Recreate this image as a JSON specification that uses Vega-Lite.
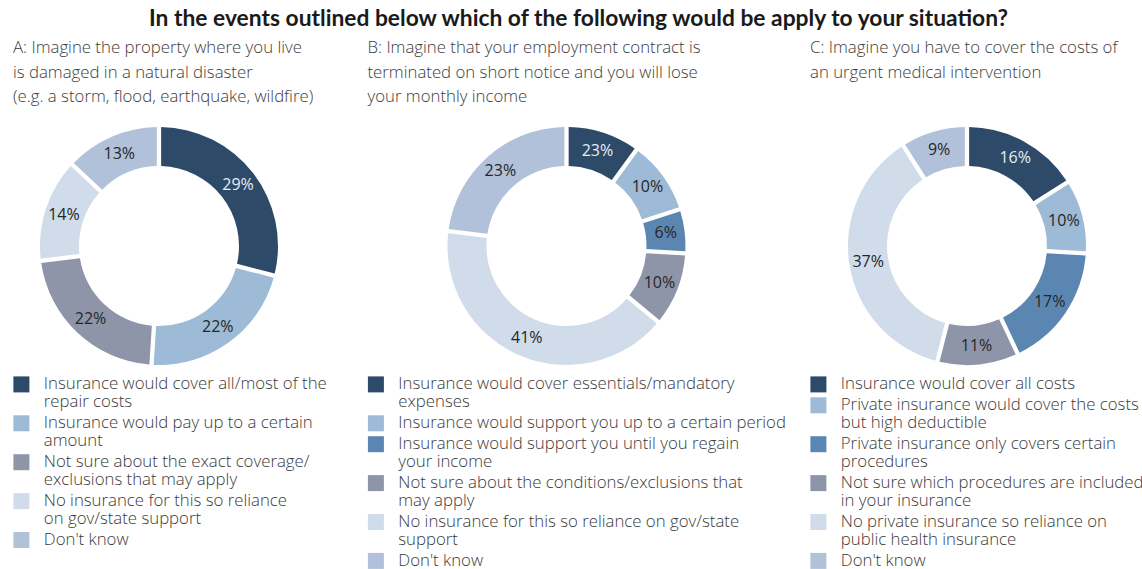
{
  "$schema": "https://vega.github.io/schema/vega-lite/v6.json",
  "padding": {"left": 13, "top": 8, "right": 0, "bottom": 0},
  "background": "white",
  "title": {"text": "In the events outlined below which of the following would be apply to your situation?", "font": "Lato", "fontSize": 22.8, "fontWeight": "bold", "color": "#1a1a1a", "anchor": "middle", "offset": 9},
  "datasets": {
    "A": [
      {"order": 1, "answer": "Insurance would cover all/most of the|repair costs", "value": 29, "label": "29%"},
      {"order": 2, "answer": "Insurance would pay up to a certain|amount", "value": 22, "label": "22%"},
      {"order": 3, "answer": "Not sure about the exact coverage/|exclusions that may apply", "value": 22, "label": "22%"},
      {"order": 4, "answer": "No insurance for this so reliance|on gov/state support", "value": 14, "label": "14%"},
      {"order": 5, "answer": "Don't know", "value": 13, "label": "13%"}
    ],
    "B": [
      {"order": 1, "answer": "Insurance would cover essentials/mandatory|expenses", "value": 10, "label": "23%"},
      {"order": 2, "answer": "Insurance would support you up to a certain period", "value": 10, "label": "10%"},
      {"order": 3, "answer": "Insurance would support you until you regain|your income", "value": 6, "label": "6%"},
      {"order": 4, "answer": "Not sure about the conditions/exclusions that|may apply", "value": 10, "label": "10%"},
      {"order": 5, "answer": "No insurance for this so reliance on gov/state|support", "value": 41, "label": "41%"},
      {"order": 6, "answer": "Don't know", "value": 23, "label": "23%"}
    ],
    "C": [
      {"order": 1, "answer": "Insurance would cover all costs", "value": 16, "label": "16%"},
      {"order": 2, "answer": "Private insurance would cover the costs|but high deductible", "value": 10, "label": "10%"},
      {"order": 3, "answer": "Private insurance only covers certain|procedures", "value": 17, "label": "17%"},
      {"order": 4, "answer": "Not sure which procedures are included|in your insurance", "value": 11, "label": "11%"},
      {"order": 5, "answer": "No private insurance so reliance on|public health insurance", "value": 37, "label": "37%"},
      {"order": 6, "answer": "Don't know", "value": 9, "label": "9%"}
    ]
  },
  "spacing": 40.5,
  "resolve": {"scale": {"color": "independent", "theta": "independent"}, "legend": {"color": "independent"}},
  "hconcat": [
    {
      "width": 292, "height": 250,
      "data": {"name": "A"},
      "title": {"text": ["A: Imagine the property where you live", "is damaged in a natural disaster", "(e.g. a storm, flood, earthquake, wildfire)"], "font": "Open Sans", "fontSize": 16.8, "fontWeight": 300, "color": "#3c3c3c", "anchor": "start", "lineHeight": 24.5, "offset": 15},
      "encoding": {
        "theta": {"field": "value", "type": "quantitative", "stack": true},
        "order": {"field": "order", "type": "quantitative"}
      },
      "layer": [
        {"mark": {"type": "arc", "outerRadius": 119, "innerRadius": 80, "padAngle": 0.03},
         "encoding": {"color": {"field": "answer", "type": "nominal", "sort": {"field": "order", "op": "min"},
           "scale": {"range": ["#2e4a69", "#9dbad6", "#8f95a9", "#d0dcea", "#b1c1d9"]},
           "legend": {"title": null, "orient": "bottom", "direction": "vertical", "columns": 1, "labelExpr": "split(datum.label, '|')", "encode": {"labels": {"update": {"lineHeight": {"value": 18}}}}}}}},
        {"mark": {"type": "text", "radius": 100, "font": "Open Sans", "fontSize": 16},
         "encoding": {"text": {"field": "label"}, "color": {"condition": {"test": "datum.order == 1", "value": "#e8edf3"}, "value": "#262626"}}}
      ]
    },
    {
      "spacing": 23.5,
      "resolve": {"scale": {"color": "independent", "theta": "independent"}, "legend": {"color": "independent"}},
      "hconcat": [
        {
          "width": 398, "height": 250,
          "data": {"name": "B"},
          "title": {"text": ["B: Imagine that your employment contract is", "terminated on short notice and you will lose", "your monthly income"], "font": "Open Sans", "fontSize": 16.8, "fontWeight": 300, "color": "#3c3c3c", "anchor": "start", "lineHeight": 24.5, "offset": 15},
          "encoding": {
            "theta": {"field": "value", "type": "quantitative", "stack": true},
            "order": {"field": "order", "type": "quantitative"}
          },
          "layer": [
            {"mark": {"type": "arc", "outerRadius": 119, "innerRadius": 80, "padAngle": 0.03},
             "encoding": {"color": {"field": "answer", "type": "nominal", "sort": {"field": "order", "op": "min"},
               "scale": {"range": ["#2e4a69", "#9dbad6", "#5b86b1", "#8f95a9", "#d0dcea", "#b1c1d9"]},
               "legend": {"title": null, "orient": "bottom", "direction": "vertical", "columns": 1, "labelExpr": "split(datum.label, '|')", "encode": {"labels": {"update": {"lineHeight": {"value": 18}}}}}}}},
            {"mark": {"type": "text", "radius": 100, "font": "Open Sans", "fontSize": 16},
             "encoding": {"text": {"field": "label"}, "color": {"condition": {"test": "datum.order == 1", "value": "#e8edf3"}, "value": "#262626"}}}
          ]
        },
        {
          "width": 314, "height": 250,
          "data": {"name": "C"},
          "title": {"text": ["C:  Imagine you have to cover the costs of", "an urgent medical intervention", " "], "font": "Open Sans", "fontSize": 16.8, "fontWeight": 300, "color": "#3c3c3c", "anchor": "start", "lineHeight": 24.5, "offset": 15},
          "encoding": {
            "theta": {"field": "value", "type": "quantitative", "stack": true},
            "order": {"field": "order", "type": "quantitative"}
          },
          "layer": [
            {"mark": {"type": "arc", "outerRadius": 119, "innerRadius": 80, "padAngle": 0.03},
             "encoding": {"color": {"field": "answer", "type": "nominal", "sort": {"field": "order", "op": "min"},
               "scale": {"range": ["#2e4a69", "#9dbad6", "#5b86b1", "#8f95a9", "#d0dcea", "#b1c1d9"]},
               "legend": {"title": null, "orient": "bottom", "direction": "vertical", "columns": 1, "labelExpr": "split(datum.label, '|')", "encode": {"labels": {"update": {"lineHeight": {"value": 18}}}}}}}},
            {"mark": {"type": "text", "radius": 100, "font": "Open Sans", "fontSize": 16},
             "encoding": {"text": {"field": "label"}, "color": {"condition": {"test": "datum.order == 1", "value": "#e8edf3"}, "value": "#262626"}}}
          ]
        }
      ]
    }
  ],
  "config": {
    "view": {"stroke": null},
    "legend": {
      "padding": 0,
      "offset": 5,
      "symbolType": "square",
      "symbolSize": 256,
      "symbolStrokeWidth": 0,
      "symbolOpacity": 1,
      "labelFont": "Open Sans",
      "labelFontSize": 16.8,
      "labelFontWeight": 300,
      "labelColor": "#3a3a3a",
      "labelLimit": 600,
      "labelOffset": 14,
      "rowPadding": 2.9,
      "layout": {"bottom": {"anchor": "start"}}
    }
  }
}
